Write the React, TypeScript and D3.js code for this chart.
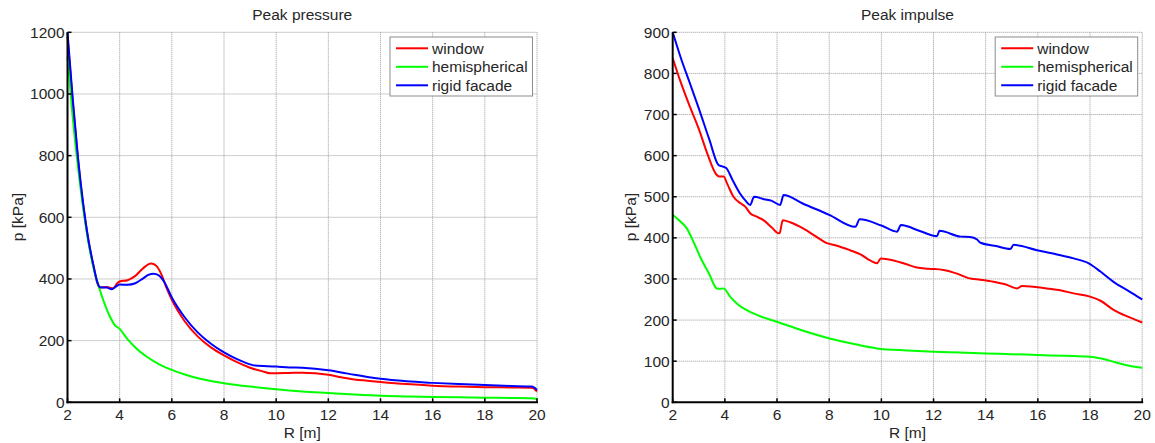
import * as d3 from 'd3'

// [R (m), value] samples
const pressureWindow: [number, number][] = [
  [2.0, 1185], [2.2, 975], [2.4, 790], [2.6, 640], [2.8, 525], [3.0, 440], [3.15, 385], [3.25, 372],
  [3.5, 374], [3.75, 370], [3.9, 385], [4.0, 392], [4.3, 396], [4.6, 410], [4.9, 435], [5.2, 450],
  [5.4, 443], [5.6, 415], [5.8, 370], [6.0, 332], [6.5, 262], [7.0, 213], [7.5, 178], [8.0, 152],
  [8.5, 130], [9.0, 112], [9.5, 100], [9.8, 94], [10.5, 95], [11.0, 96], [11.5, 94], [12.0, 89],
  [12.5, 81], [13.0, 74], [13.5, 70], [14.0, 66], [15.0, 59], [16.0, 54], [17.0, 51], [18.0, 49],
  [19.0, 48], [19.8, 47], [20.0, 35],
]
const pressureHemi: [number, number][] = [
  [2.0, 1120], [2.2, 925], [2.4, 765], [2.6, 630], [2.8, 520], [3.0, 435], [3.2, 375], [3.4, 325],
  [3.6, 283], [3.8, 252], [4.0, 238], [4.3, 205], [4.6, 178], [5.0, 150], [5.5, 124], [6.0, 105],
  [6.5, 90], [7.0, 78], [7.5, 69], [8.0, 62], [9.0, 51], [10.0, 42], [11.0, 35], [12.0, 30],
  [13.0, 25], [14.0, 21], [15.0, 19], [16.0, 17], [17.0, 16], [18.0, 15], [19.0, 14], [19.8, 13],
  [20.0, 11],
]
const pressureRigid: [number, number][] = [
  [2.0, 1200], [2.2, 985], [2.4, 795], [2.6, 645], [2.8, 528], [3.0, 442], [3.15, 388], [3.25, 373],
  [3.5, 372], [3.7, 367], [3.85, 375], [4.0, 382], [4.3, 381], [4.6, 386], [4.9, 402], [5.1, 413],
  [5.3, 417], [5.5, 412], [5.7, 392], [6.0, 340], [6.5, 275], [7.0, 226], [7.5, 190], [8.0, 162],
  [8.5, 140], [9.0, 123], [9.2, 119], [10.0, 116], [10.5, 113], [11.0, 112], [11.5, 109], [12.0, 104],
  [12.5, 97], [13.0, 89], [13.5, 82], [14.0, 76], [15.0, 68], [16.0, 63], [17.0, 59], [18.0, 56],
  [19.0, 53], [19.8, 51], [20.0, 40],
]

const impulseWindow: [number, number][] = [
  [2.0, 837], [2.3, 780], [2.66, 719], [3.0, 665], [3.3, 610], [3.69, 553], [3.8, 549], [3.95, 549],
  [4.1, 530], [4.33, 500], [4.6, 484], [4.78, 476], [4.97, 460], [5.2, 452], [5.48, 443], [5.8, 425],
  [6.06, 411], [6.1, 412], [6.22, 443], [6.5, 438], [7.0, 423], [7.5, 403], [7.91, 387], [8.3, 381],
  [8.8, 370], [9.2, 360], [9.57, 345], [9.83, 338], [9.98, 350], [10.47, 345], [10.9, 337], [11.36, 328],
  [11.8, 325], [12.38, 322], [12.9, 313], [13.34, 302], [13.8, 298], [14.3, 293], [14.8, 286], [15.2, 277],
  [15.39, 283], [16.35, 277], [16.9, 272], [17.37, 265], [18.0, 257], [18.4, 247], [18.9, 225], [19.5, 207],
  [20.0, 194],
]
const impulseHemi: [number, number][] = [
  [2.0, 456], [2.2, 445], [2.54, 423], [2.8, 390], [3.05, 354], [3.4, 312], [3.69, 277], [3.8, 276],
  [3.95, 277], [4.2, 257], [4.5, 238], [4.84, 224], [5.4, 208], [5.99, 196], [7.0, 174], [7.98, 156],
  [9.0, 141], [9.83, 131], [11.0, 126], [12.0, 123], [13.0, 121], [14.0, 119], [15.0, 117], [16.0, 115],
  [17.0, 113], [18.0, 111], [18.4, 107], [19.0, 97], [19.5, 89], [20.0, 84],
]
const impulseRigid: [number, number][] = [
  [2.0, 900], [2.3, 840], [2.66, 776], [3.0, 715], [3.4, 640], [3.76, 577], [3.9, 574], [4.05, 570],
  [4.3, 540], [4.58, 508], [4.8, 490], [4.97, 480], [5.12, 500], [5.5, 494], [5.8, 490], [6.12, 480],
  [6.25, 504], [7.0, 483], [8.0, 456], [9.0, 427], [9.17, 445], [10.0, 430], [10.6, 415], [10.75, 431],
  [11.5, 416], [12.13, 404], [12.23, 417], [13.03, 403], [13.4, 402], [13.67, 396], [13.8, 388], [14.4, 380],
  [14.94, 373], [15.07, 383], [15.97, 370], [16.7, 360], [17.37, 350], [17.95, 338], [18.4, 318], [18.9, 293],
  [19.5, 270], [20.0, 250],
]

const seriesNames = ['window', 'hemispherical', 'rigid facade']
const seriesColors = ['#ff0000', '#00ff00', '#0000ff']
const xTicks = [2, 4, 6, 8, 10, 12, 14, 16, 18, 20]
const pressureTicks = [0, 200, 400, 600, 800, 1000, 1200]
const impulseTicks = [0, 100, 200, 300, 400, 500, 600, 700, 800, 900]

const font = 'Liberation Sans, Arial, sans-serif'
const textColor = '#262626'

interface PanelProps {
  left: number
  title: string
  yMax: number
  yTicks: number[]
  yLabelGap: number
  series: [number, number][][]
}

function Panel({ left, title, yMax, yTicks, yLabelGap, series }: PanelProps) {
  const top = 32.3
  const bottom = 402.3
  const width = 469.5
  const x = d3.scaleLinear().domain([2, 20]).range([left, left + width])
  const y = d3.scaleLinear().domain([0, yMax]).range([bottom, top])
  const line = d3.line<[number, number]>()
    .x(d => x(d[0]))
    .y(d => y(d[1]))
    .curve(d3.curveMonotoneX)

  const legX = left + width - 147
  return (
    <g fontFamily={font} fill={textColor}>
      {/* grid */}
      {xTicks.filter(t => t !== 2).map(t => (
        <line key={'gx' + t} x1={x(t)} x2={x(t)} y1={top} y2={bottom}
          stroke="#9a9a9a" strokeWidth={1} strokeDasharray="1 1" />
      ))}
      {yTicks.filter(t => t !== 0).map(t => (
        <line key={'gy' + t} x1={left} x2={left + width} y1={y(t)} y2={y(t)}
          stroke="#9a9a9a" strokeWidth={1} strokeDasharray="1 1" />
      ))}

      {/* curves */}
      {series.map((s, i) => (
        <path key={'s' + i} d={line(s) || ''} fill="none" stroke={seriesColors[i]}
          strokeWidth={2} strokeLinejoin="round" />
      ))}

      {/* axes */}
      <line x1={left} x2={left} y1={top} y2={bottom + 1} stroke="#000" strokeWidth={2} />
      <line x1={left - 1} x2={left + width + 1} y1={bottom} y2={bottom} stroke="#000" strokeWidth={2} />
      {xTicks.map(t => (
        <line key={'tx' + t} x1={x(t)} x2={x(t)} y1={bottom} y2={bottom - 4} stroke="#000" strokeWidth={1.5} />
      ))}
      {yTicks.map(t => (
        <line key={'ty' + t} x1={left} x2={left + 4} y1={y(t)} y2={y(t)} stroke="#000" strokeWidth={1.5} />
      ))}

      {/* tick labels */}
      {xTicks.map(t => (
        <text key={'lx' + t} x={x(t)} y={420} textAnchor="middle" fontSize={15.5}>{t}</text>
      ))}
      {yTicks.map(t => (
        <text key={'ly' + t} x={left - 3} y={y(t) + 5.5} textAnchor="end" fontSize={15.5}>{t}</text>
      ))}

      {/* titles */}
      <text x={left + width / 2} y={20} textAnchor="middle" fontSize={15.5}>{title}</text>
      <text x={left + width / 2} y={438} textAnchor="middle" fontSize={15.5}>R [m]</text>
      <text transform={`translate(${left - yLabelGap},217) rotate(-90)`} textAnchor="middle" fontSize={15.5}>p [kPa]</text>

      {/* legend */}
      <rect x={legX} y={37} width={142.5} height={59} fill="#fff" stroke="#8c8c8c" strokeWidth={1} />
      {seriesNames.map((n, i) => (
        <g key={'lg' + i}>
          <line x1={legX + 6} x2={legX + 38} y1={48.3 + i * 18.5} y2={48.3 + i * 18.5}
            stroke={seriesColors[i]} strokeWidth={2} />
          <text x={legX + 42} y={53.5 + i * 18.5} fontSize={15.5}>{n}</text>
        </g>
      ))}
    </g>
  )
}

export default function App() {
  return (
    <svg width={1155} height={443} style={{ position: 'absolute', left: 0, top: 0, background: '#fff' }}>
      <rect width={1155} height={443} fill="#fff" />
      <Panel left={67.5} title="Peak pressure" yMax={1200} yTicks={pressureTicks} yLabelGap={45}
        series={[pressureWindow, pressureHemi, pressureRigid]} />
      <Panel left={672.7} title="Peak impulse" yMax={900} yTicks={impulseTicks} yLabelGap={37}
        series={[impulseWindow, impulseHemi, impulseRigid]} />
    </svg>
  )
}
